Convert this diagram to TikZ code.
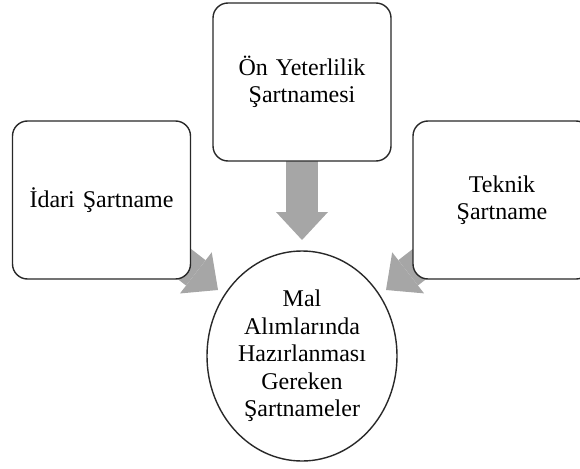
\documentclass[tikz,border=0pt]{standalone}
\usepackage{fontspec}
\setmainfont{Liberation Serif}
\usetikzlibrary{arrows.meta,shapes.geometric,backgrounds}
\definecolor{arrowgray}{RGB}{166,166,166}
\definecolor{edgecol}{RGB}{40,40,40}
\tikzset{
  box/.style={draw=edgecol, line width=1.4pt, fill=white, rounded corners=15pt,
    minimum width=178pt, minimum height=158pt, text width=170pt, align=center,
    inner sep=0pt, font=\fontsize{24}{27.5}\selectfont},
  centre/.style={draw=edgecol, line width=1.4pt, fill=white, ellipse,
    minimum width=190pt, minimum height=210pt, inner sep=0pt, align=center,
    font=\fontsize{24}{27.5}\selectfont},
  bigarrow/.style={arrowgray, line width=32pt, line cap=butt,
    -{Triangle[width=52pt,length=28pt,line width=0pt]}}
}
\begin{document}
\begin{tikzpicture}[x=1pt,y=-1pt]
\useasboundingbox (0,0) rectangle (580,468);
\begin{scope}
\clip (0,0) rectangle (580,468);
\node[box] (idari) at (101.5,200) {İdari Şartname};
\node[box] (onyet) at (302,82) {Ön Yeterlilik\\Şartnamesi};
\node[box] (teknik) at (502,200) {Teknik\\Şartname};
\node[centre] (mal) at (302,356) {Mal\\Alımlarında\\Hazırlanması\\Gereken\\Şartnameler};
\coordinate (tipL) at (218,290);
\coordinate (tipT) at (302,240);
\coordinate (tipR) at (386,290);
\begin{scope}[on background layer]
\draw[bigarrow] (idari.center) -- (tipL);
\draw[bigarrow] (onyet.center) -- (tipT);
\draw[bigarrow] (teknik.center) -- (tipR);
\end{scope}
\end{scope}
\end{tikzpicture}
\end{document}
